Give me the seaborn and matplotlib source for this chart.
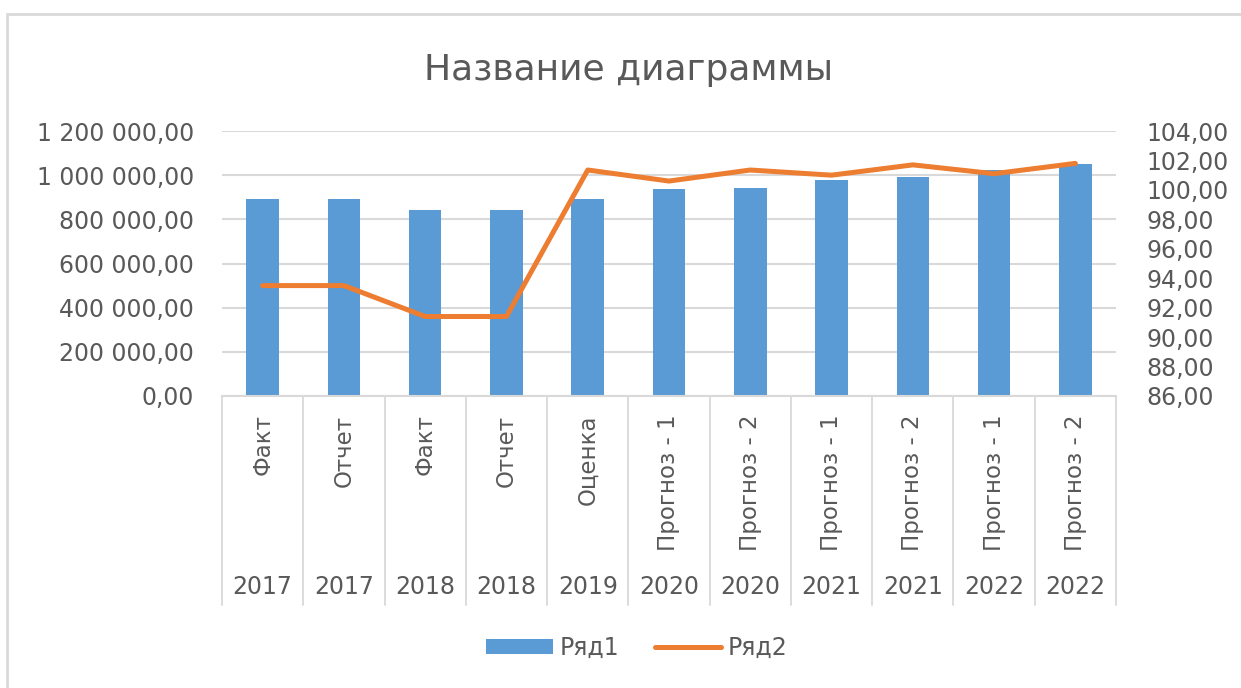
import numpy as np
import pandas as pd
import matplotlib
matplotlib.use('Agg')
import matplotlib.pyplot as plt
import seaborn as sns
from matplotlib.patches import Patch, Rectangle
from matplotlib.lines import Line2D
from matplotlib.ticker import FuncFormatter, MultipleLocator
import matplotlib.transforms as mtransforms

# ---------------------------------------------------
categories = ['Факт', 'Отчет', 'Факт', 'Отчет', 'Оценка', 'Прогноз - 1', 'Прогноз - 2',
              'Прогноз - 1', 'Прогноз - 2', 'Прогноз - 1', 'Прогноз - 2']
years = ['2017', '2017', '2018', '2018', '2019', '2020', '2020', '2021', '2021', '2022', '2022']
row1 = [893000, 893000, 841000, 841000, 893000, 936000, 942000, 977000, 990000, 1023000, 1052000]
row2 = [93.5, 93.5, 91.4, 91.4, 101.35, 100.6, 101.35, 101.0, 101.7, 101.1, 101.8]

bar_color = '#5B9BD5'
line_color = '#ED7D31'
text_color = '#595959'
grid_color = '#D9D9D9'

sns.set_theme(style='white')
plt.rcParams['font.family'] = ['DejaVu Sans']

df = pd.DataFrame({'pos': range(len(categories)), 'cat': categories, 'year': years,
                   'row1': row1, 'row2': row2})

fig = plt.figure(figsize=(12.41, 6.88), dpi=100)
ax = fig.add_axes([222/1241, 1-396/688, (1116-222)/1241, 265/688])

sns.barplot(data=df, x='pos', y='row1', ax=ax, color=bar_color, width=0.4,
            saturation=1, edgecolor='none')
ax.set_xlim(-0.5, len(categories)-0.5)
ax.set_ylim(0, 1200000)
ax.yaxis.set_major_locator(MultipleLocator(200000))
ax.yaxis.set_major_formatter(FuncFormatter(lambda v, p: f"{v:,.2f}".replace(',', ' ').replace('.', ',')))
ax.grid(axis='y', color=grid_color, lw=1.5)
ax.set_axisbelow(True)
ax.set_xticks([])
ax.set_xlabel('')
ax.set_ylabel('')
ax.tick_params(axis='y', length=0, pad=20, labelsize=17, labelcolor=text_color)
for s in ['top', 'left', 'right']:
    ax.spines[s].set_visible(False)
ax.spines['bottom'].set_color(grid_color)
ax.spines['bottom'].set_linewidth(1.5)

ax2 = ax.twinx()
sns.lineplot(data=df, x='pos', y='row2', ax=ax2, color=line_color, lw=3.6,
             solid_capstyle='round', solid_joinstyle='round')
ax2.set_ylim(86, 104)
ax2.yaxis.set_major_locator(MultipleLocator(2))
ax2.yaxis.set_major_formatter(FuncFormatter(lambda v, p: f"{v:.2f}".replace('.', ',')))
ax2.tick_params(axis='y', length=0, pad=22, labelsize=17, labelcolor=text_color)
ax2.set_ylabel('')
ax2.set_xlabel('')
for s in ax2.spines.values():
    s.set_visible(False)
ax2.set_xlim(-0.5, len(categories)-0.5)

# multi-level category axis
trans = mtransforms.blended_transform_factory(ax.transData, ax.transAxes)
for i, (c, y) in enumerate(zip(categories, years)):
    ax.text(i, -0.07, c, rotation=90, ha='center', va='top', transform=trans,
            fontsize=16.5, color=text_color)
    ax.text(i, -0.72, y, ha='center', va='center', transform=trans,
            fontsize=17, color=text_color)
for b in np.arange(-0.5, len(categories), 1.0):
    ax.plot([b, b], [0, -0.79], transform=trans, color=grid_color, lw=1.3, clip_on=False)

fig.text(629/1241, 1-70/688, 'Название диаграммы', ha='center', va='center',
         fontsize=26, color=text_color)

handles = [Patch(facecolor=bar_color, edgecolor='none', label='Ряд1'),
           Line2D([0], [0], color=line_color, lw=3.6, solid_capstyle='round', label='Ряд2')]
fig.legend(handles=handles, loc='center', bbox_to_anchor=(637/1241, 1-648/688), ncol=2,
           frameon=False, fontsize=17, labelcolor=text_color, handlelength=2.8,
           handleheight=0.6, handletextpad=0.3, columnspacing=1.5)

fig.add_artist(Rectangle((7/1241, -0.2), 1.2, 1.2 - 14/688, transform=fig.transFigure,
                         fill=False, edgecolor=grid_color, lw=2))

fig.savefig('out.png', dpi=100)
